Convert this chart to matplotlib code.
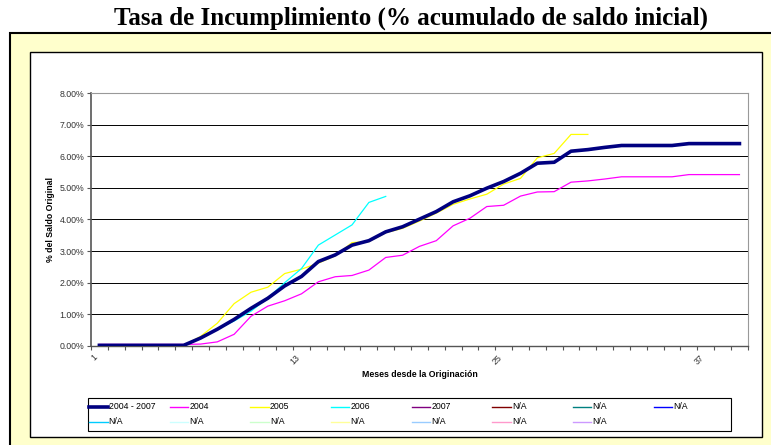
import numpy as np
import matplotlib

matplotlib.use("Agg")
import matplotlib.pyplot as plt
from matplotlib.patches import Rectangle
from matplotlib.lines import Line2D

plt.rcParams["font.family"] = ["Liberation Sans", "DejaVu Sans"]

nan = np.nan
months = np.arange(1, 40)

all_years = [0.02, 0.02, 0.02, 0.02, 0.02, 0.02, 0.25, 0.53, 0.84, 1.19,
             1.51, 1.90, 2.20, 2.67, 2.88, 3.19, 3.33, 3.61, 3.77, 4.01,
             4.25, 4.56, 4.75, 4.99, 5.20, 5.46, 5.78, 5.81, 6.16, 6.21,
             6.28, 6.34, 6.34, 6.34, 6.34, 6.40, 6.40, 6.40, 6.40]
y2004 = [0.05, 0.05, 0.05, 0.05, 0.05, 0.05, 0.06, 0.13, 0.37, 0.94,
         1.26, 1.43, 1.65, 2.03, 2.19, 2.23, 2.40, 2.80, 2.87, 3.15,
         3.33, 3.80, 4.04, 4.41, 4.45, 4.74, 4.87, 4.88, 5.18, 5.22,
         5.28, 5.35, 5.35, 5.35, 5.35, 5.42, 5.42, 5.42, 5.42]
y2005 = [0.02, 0.02, 0.02, 0.02, 0.02, 0.02, 0.30, 0.72, 1.34, 1.70,
         1.86, 2.29, 2.43, 2.62, 2.85, 3.27, 3.30, 3.58, 3.72, 3.95,
         4.20, 4.48, 4.65, 4.80, 5.12, 5.30, 5.95, 6.09, 6.69, 6.69] + [nan] * 9
y2006 = [0.02, 0.02, 0.02, 0.02, 0.02, 0.02, 0.25, 0.53, 0.79, 1.10,
         1.52, 2.00, 2.45, 3.19, 3.51, 3.83, 4.54, 4.73] + [nan] * 21

legend_labels = ["2004 - 2007", "2004", "2005", "2006", "2007", "N/A", "N/A", "N/A",
                 "N/A", "N/A", "N/A", "N/A", "N/A", "N/A", "N/A"]
legend_colors = ["#000080", "#FF00FF", "#FFFF00", "#00FFFF", "#800080", "#800000",
                 "#008080", "#0000FF", "#00CCFF", "#CCFFFF", "#CCFFCC", "#FFFF99",
                 "#99CCFF", "#FF99CC", "#CC99FF"]

fig = plt.figure(figsize=(7.71, 4.45), dpi=100)
fig.patch.set_facecolor("white")

# outer yellow frame and white chart area
fig.patches.append(Rectangle((0.013, -0.05), 1.05, 0.9758, transform=fig.transFigure,
                             facecolor="#FFFFCC", edgecolor="black", lw=1.5, zorder=0))
fig.patches.append(Rectangle((0.0389, 0.018), 0.9494, 0.8651, transform=fig.transFigure,
                             facecolor="white", edgecolor="black", lw=1.0, zorder=1))

fig.text(0.533, 0.958, "Tasa de Incumplimiento (% acumulado de saldo inicial)",
         ha="center", va="center", fontsize=18, fontweight="bold",
         family=["Liberation Serif", "DejaVu Serif"])

ax = fig.add_axes([0.118, 0.2225, 0.852, 0.5685])
ax.set_facecolor("white")
ax.set_zorder(2)

ax.plot(months, y2004, color="#FF00FF", lw=0.9, zorder=3)
ax.plot(months, y2005, color="#FFFF00", lw=0.9, zorder=3)
ax.plot(months, y2006, color="#00FFFF", lw=0.9, zorder=3)
ax.plot(months, all_years, color="#000080", lw=2.6, zorder=4)

ax.set_xlim(0.5, 39.5)
ax.set_ylim(0, 8)
ax.set_yticks(np.arange(0, 9, 1))
ax.set_yticklabels([f"{v:.2f}%" for v in range(9)], fontsize=6.3, color="#333333")
for v in range(1, 8):
    ax.axhline(v, color="black", lw=0.7, zorder=1)

ax.set_xticks([1, 13, 25, 37])
ax.set_xticklabels(["1", "13", "25", "37"], rotation=45, ha="right", fontsize=6.3,
                   color="#333333")
ax.set_xticks(np.arange(0.5, 40, 1), minor=True)
ax.tick_params(axis="x", which="major", length=0, pad=5)
ax.tick_params(axis="x", which="minor", length=3, width=0.8, color="#555555")
ax.tick_params(axis="y", length=3, width=0.8, color="#555555", pad=2)

for side in ["top", "right"]:
    ax.spines[side].set_color("#999999")
    ax.spines[side].set_linewidth(0.8)
ax.spines["left"].set_color("#555555")
ax.spines["left"].set_linewidth(1.2)
ax.spines["bottom"].set_color("#555555")
ax.spines["bottom"].set_linewidth(1.0)

ax.set_ylabel("% del Saldo Original", fontsize=6.3, fontweight="bold", labelpad=3)
ax.set_xlabel("Meses desde la Originación", fontsize=6.3, fontweight="bold", labelpad=3)

# legend box, laid out row by row like the original
fig.patches.append(Rectangle((0.1141, 0.0315), 0.8339, 0.0741, transform=fig.transFigure,
                             facecolor="white", edgecolor="black", lw=0.8, zorder=2))
col_x0 = 0.1155
col_w = 0.1046
row_y = [0.0854, 0.0517]
for i, (lab, col) in enumerate(zip(legend_labels, legend_colors)):
    r, c = divmod(i, 8)
    x = col_x0 + c * col_w
    lw = 2.6 if i == 0 else 1.0
    fig.lines.append(Line2D([x, x + 0.024], [row_y[r], row_y[r]], transform=fig.transFigure,
                            color=col, lw=lw, zorder=3))
    fig.text(x + 0.0255, row_y[r], lab, ha="left", va="center", fontsize=6.3, zorder=3)

fig.savefig("out.png", dpi=100)
